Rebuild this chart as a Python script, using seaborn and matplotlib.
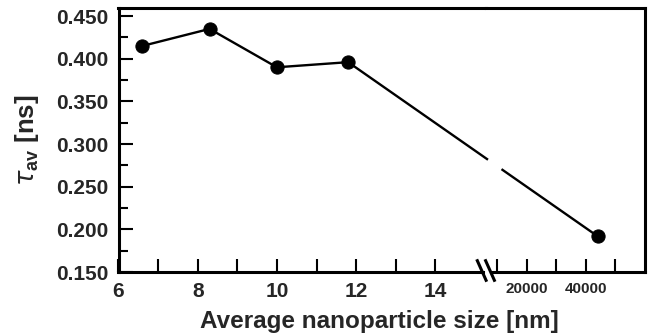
import numpy as np
import pandas as pd
import matplotlib
matplotlib.use("Agg")
import matplotlib.pyplot as plt
import seaborn as sns
from matplotlib.lines import Line2D
from matplotlib.ticker import FixedLocator, MultipleLocator

# ---------------- data ----------------
sizes_nm = [6.6, 8.3, 10.0, 11.8, 44000]
tau_ns = [0.415, 0.435, 0.390, 0.396, 0.192]

left_major_ticks = [6, 8, 10, 12, 14]
left_minor_ticks = [7, 9, 11, 13]
left_tick_labels = ["6", "8", "10", "12", "14"]
right_major_ticks = [20000, 40000]
right_minor_ticks = [10000, 30000, 50000]
right_tick_labels = ["20000", "40000"]
y_major_ticks = [0.150, 0.200, 0.250, 0.300, 0.350, 0.400, 0.450]
y_tick_labels = ["0.150", "0.200", "0.250", "0.300", "0.350", "0.400", "0.450"]
x_label = "Average nanoparticle size [nm]"
y_label = r"$\tau_{\mathbf{av}}$ [ns]"

# ---------------- style ----------------
sns.set_style("ticks")
plt.rcParams["font.family"] = ["Liberation Sans", "DejaVu Sans"]
plt.rcParams["font.weight"] = "bold"
plt.rcParams["axes.labelweight"] = "bold"
plt.rcParams["mathtext.fontset"] = "custom"
plt.rcParams["mathtext.it"] = "DejaVu Sans:style=italic:weight=normal"
plt.rcParams["mathtext.rm"] = "Liberation Sans"
plt.rcParams["mathtext.bf"] = "Liberation Sans:weight=bold"

W, H = 659, 336
fig = plt.figure(figsize=(W / 100, H / 100), dpi=100)

x0, xs, x1 = 118.5, 486.0, 645.0   # pixel columns: left edge, break, right edge
yb, yt = 272.0, 8.0                 # pixel rows: bottom, top

axL = fig.add_axes([x0 / W, 1 - yb / H, (xs - x0) / W, (yb - yt) / H])
axR = fig.add_axes([xs / W, 1 - yb / H, (x1 - xs) / W, (yb - yt) / H], sharey=axL)

df = pd.DataFrame({"size": sizes_nm, "tau": tau_ns})
small = df[df["size"] < 1000]
large = df[df["size"] >= 1000]

line_kw = dict(color="black", linewidth=1.7, marker="o", markersize=9.5,
               markeredgecolor="black", markerfacecolor="black")
sns.lineplot(data=small, x="size", y="tau", ax=axL, **line_kw)
sns.lineplot(data=large, x="size", y="tau", ax=axR, **line_kw)

axL.set_xlim(6, 6 + (xs - x0) / 39.6)
axR.set_xlim(6280, 60050)
axL.set_ylim(0.15, 0.4595)

spine_lw = 2.2
for ax in (axL, axR):
    for s in ax.spines.values():
        s.set_linewidth(spine_lw)
        s.set_color("black")
axL.spines["right"].set_visible(False)
axR.spines["left"].set_visible(False)
axL.spines["bottom"].set_bounds(6, 15.2)
axR.spines["bottom"].set_bounds(8000, 60050)

tick_font = dict(fontsize=15, fontweight="bold")

axL.xaxis.set_major_locator(FixedLocator(left_major_ticks))
axL.xaxis.set_minor_locator(FixedLocator(left_minor_ticks))
axL.set_xticklabels(left_tick_labels, **tick_font)
axL.yaxis.set_major_locator(FixedLocator(y_major_ticks))
axL.yaxis.set_minor_locator(MultipleLocator(0.025))
axL.set_yticklabels(y_tick_labels, **tick_font)

axR.xaxis.set_major_locator(FixedLocator(right_major_ticks))
axR.xaxis.set_minor_locator(FixedLocator(right_minor_ticks))
axR.set_xticklabels(right_tick_labels, fontsize=11, fontweight="bold")

for ax in (axL, axR):
    ax.tick_params(axis="x", which="both", direction="in", length=9.4, width=1.5,
                   pad=7.5, top=False, bottom=True, color="black")
axL.tick_params(axis="y", which="major", direction="in", length=10, width=1.5,
                pad=7, right=False, color="black")
axL.tick_params(axis="y", which="minor", direction="in", length=6.8, width=1.5,
                right=False, color="black")
axR.tick_params(axis="y", which="both", left=False, right=False, labelleft=False)

axR.set_xlabel("")
axR.set_ylabel("")
axL.set_xlabel(x_label, fontsize=17.5, fontweight="bold")
axL.xaxis.set_label_coords((379 - x0) / (xs - x0), -0.145)
axL.set_ylabel(y_label, fontsize=18.5, fontweight="bold", labelpad=11)

# ---------- connecting segment across the break (with a gap) ----------
p4 = small.iloc[-1]
p5 = large.iloc[0]
pA = axL.transData.transform((p4["size"], p4["tau"]))
pB = axR.transData.transform((p5["size"], p5["tau"]))
split = axL.transAxes.transform((1, 0))
g0, g1 = split[0] + 2.0, split[0] + 15.5


def at(xp):
    t = (xp - pA[0]) / (pB[0] - pA[0])
    return pA + t * (pB - pA)


inv = fig.transFigure.inverted()
for seg in ([pA, at(g0)], [at(g1), pB]):
    f = inv.transform(np.array(seg))
    fig.add_artist(Line2D(f[:, 0], f[:, 1], transform=fig.transFigure,
                          color="black", linewidth=1.7, solid_capstyle="butt",
                          zorder=1))

# ---------- break marks on the bottom axis ----------
for dx in (0.0, 8.3):
    seg = np.array([[split[0] - 9.3 + dx, split[1] + 12.7],
                    [split[0] + 0.7 + dx, split[1] - 9.7]])
    f = inv.transform(seg)
    fig.add_artist(Line2D(f[:, 0], f[:, 1], transform=fig.transFigure,
                          color="black", linewidth=2.2, solid_capstyle="butt"))

fig.savefig("out.png", dpi=100)
